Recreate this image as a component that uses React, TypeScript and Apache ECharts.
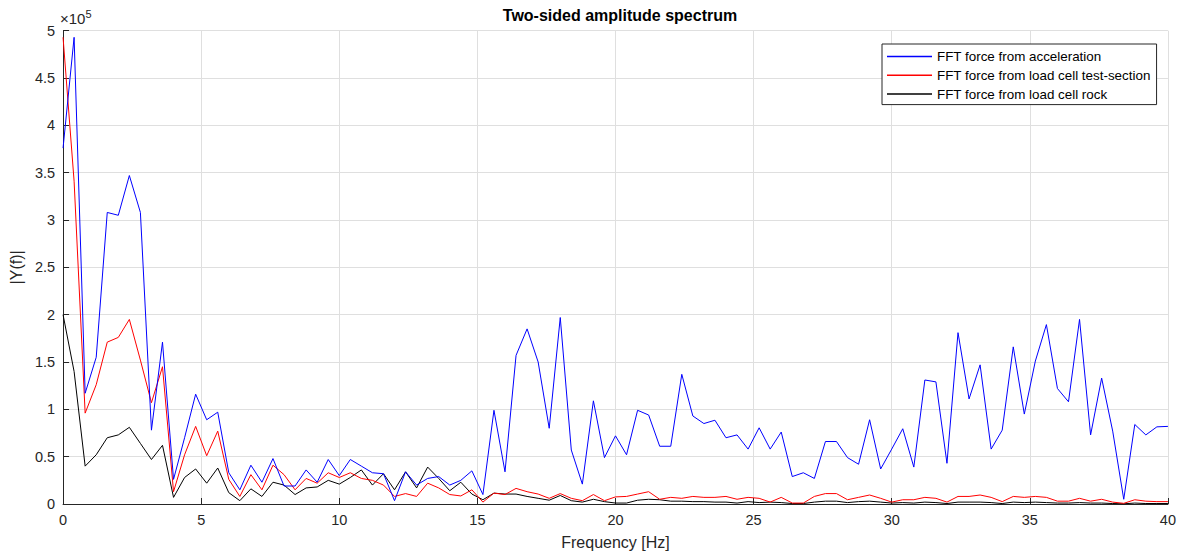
import React, { useEffect, useRef } from "react";
import * as echarts from "echarts";

// Frequency resolution of the spectrum (Hz per bin); bins 0..100 cover 0–40 Hz
const freqStep = 0.4;

// |Y(f)| in units of 1e5
const accelForce = [
  3.76, 4.93, 1.17, 1.55, 3.08, 3.05, 3.47, 3.08, 0.78, 1.71,
  0.26, 0.70, 1.16, 0.89, 0.97, 0.33, 0.15, 0.41, 0.23, 0.48,
  0.19, 0.19, 0.36, 0.23, 0.47, 0.30, 0.47, 0.40, 0.33, 0.32,
  0.035, 0.34, 0.20, 0.27, 0.29, 0.20, 0.25, 0.35, 0.10, 0.99,
  0.34, 1.57, 1.85, 1.50, 0.80, 1.97, 0.57, 0.21, 1.09, 0.49,
  0.72, 0.52, 0.99, 0.94, 0.61, 0.61, 1.37, 0.93, 0.85, 0.885,
  0.70, 0.73, 0.58, 0.805, 0.58, 0.76, 0.29, 0.33, 0.27, 0.66,
  0.66, 0.49, 0.42, 0.89, 0.37, 0.58, 0.795, 0.39, 1.31, 1.29,
  0.43, 1.81, 1.11, 1.47, 0.58, 0.78, 1.66, 0.95, 1.51, 1.895,
  1.22, 1.08, 1.95, 0.73, 1.33, 0.77, 0.05, 0.84, 0.73, 0.815,
  0.82,
];

const testSectionForce = [
  4.93, 3.41, 0.96, 1.26, 1.71, 1.76, 1.95, 1.52, 1.07, 1.45,
  0.13, 0.52, 0.82, 0.51, 0.77, 0.26, 0.08, 0.31, 0.15, 0.41,
  0.31, 0.15, 0.27, 0.22, 0.33, 0.28, 0.33, 0.27, 0.25, 0.20,
  0.08, 0.11, 0.08, 0.22, 0.17, 0.10, 0.085, 0.15, 0.02, 0.115,
  0.10, 0.165, 0.13, 0.105, 0.06, 0.11, 0.06, 0.035, 0.10, 0.035,
  0.075, 0.08, 0.105, 0.13, 0.05, 0.07, 0.06, 0.08, 0.07, 0.07,
  0.08, 0.05, 0.07, 0.06, 0.02, 0.07, 0.01, 0.01, 0.08, 0.11,
  0.11, 0.045, 0.07, 0.095, 0.06, 0.02, 0.045, 0.045, 0.07, 0.06,
  0.02, 0.08, 0.08, 0.095, 0.07, 0.025, 0.08, 0.07, 0.08, 0.07,
  0.03, 0.03, 0.06, 0.03, 0.05, 0.02, 0.007, 0.045, 0.03, 0.025,
  0.025,
];

const rockForce = [
  2.0, 1.4, 0.40, 0.52, 0.70, 0.73, 0.81, 0.64, 0.47, 0.62,
  0.07, 0.28, 0.37, 0.22, 0.38, 0.12, 0.035, 0.16, 0.08, 0.23,
  0.20, 0.10, 0.17, 0.18, 0.25, 0.21, 0.28, 0.36, 0.20, 0.32,
  0.15, 0.34, 0.17, 0.39, 0.27, 0.14, 0.23, 0.105, 0.045, 0.115,
  0.105, 0.105, 0.08, 0.06, 0.04, 0.09, 0.035, 0.02, 0.05, 0.025,
  0.01, 0.01, 0.04, 0.05, 0.045, 0.03, 0.03, 0.025, 0.025, 0.02,
  0.02, 0.01, 0.025, 0.015, 0.02, 0.015, 0.005, 0.005, 0.02, 0.03,
  0.03, 0.015, 0.025, 0.03, 0.02, 0.01, 0.015, 0.01, 0.02, 0.015,
  0.005, 0.02, 0.02, 0.02, 0.015, 0.005, 0.02, 0.015, 0.02, 0.015,
  0.01, 0.01, 0.015, 0.01, 0.01, 0.005, 0.002, 0.01, 0.005, 0.005,
  0.005,
];

const seriesNames = [
  "FFT force from acceleration",
  "FFT force from load cell test-section",
  "FFT force from load cell rock",
];
const seriesColors = ["#0000ff", "#ff0000", "#000000"];

const FONT = "'Liberation Sans', Arial, Helvetica, sans-serif";
const AX = "#262626";

function toPairs(vals: number[]) {
  return vals.map((v, i) => [+(i * freqStep).toFixed(3), v]);
}

export default function App() {
  const ref = useRef<HTMLDivElement>(null);
  useEffect(() => {
    if (!ref.current) return;
    const chart = echarts.init(ref.current, undefined, { renderer: "svg" });
    const all = [accelForce, testSectionForce, rockForce];
    chart.setOption({
      animation: false,
      backgroundColor: "#ffffff",
      textStyle: { fontFamily: FONT },
      title: {
        text: "Two-sided amplitude spectrum",
        left: 615,
        top: 2,
        textAlign: "center",
        textStyle: { fontFamily: FONT, fontSize: 16, fontWeight: "bold", color: "#000" },
      },
      grid: { left: 60, right: 9.5, top: 30.7, bottom: 48.3 },
      legend: {
        orient: "vertical",
        left: 882,
        top: 44,
        padding: [5, 6, 3, 5],
        itemGap: 3.8,
        itemWidth: 45,
        itemHeight: 1.5,
        icon: "rect",
        backgroundColor: "#ffffff",
        borderColor: AX,
        borderWidth: 1,
        borderRadius: 0,
        textStyle: { fontFamily: FONT, fontSize: 13.4, color: "#000", lineHeight: 15 },
        data: seriesNames,
      },
      xAxis: {
        type: "value",
        min: 0,
        max: 40,
        interval: 5,
        name: "Frequency [Hz]",
        nameLocation: "middle",
        nameGap: 30,
        nameTextStyle: { fontFamily: FONT, fontSize: 16, color: AX },
        axisLine: { show: true, lineStyle: { color: AX, width: 1 } },
        axisTick: { show: true, inside: true, length: 6, lineStyle: { color: AX } },
        axisLabel: { fontFamily: FONT, fontSize: 14.5, color: AX, margin: 8 },
        splitLine: { show: true, lineStyle: { color: "#dfdfdf", width: 1 } },
      },
      yAxis: {
        type: "value",
        min: 0,
        max: 5,
        interval: 0.5,
        name: "|Y(f)|",
        nameLocation: "middle",
        nameGap: 32,
        nameTextStyle: { fontFamily: FONT, fontSize: 16, color: AX },
        axisLine: { show: true, lineStyle: { color: AX, width: 1 } },
        axisTick: { show: true, inside: true, length: 6, lineStyle: { color: AX } },
        axisLabel: { fontFamily: FONT, fontSize: 14.5, color: AX, margin: 8 },
        splitLine: { show: true, lineStyle: { color: "#dfdfdf", width: 1 } },
      },
      graphic: [
        {
          type: "text",
          left: 60,
          top: 8,
          style: {
            text: "{a|×10}{b|5}",
            rich: {
              a: { fontFamily: FONT, fontSize: 15, fill: AX, verticalAlign: "bottom", lineHeight: 18 },
              b: { fontFamily: FONT, fontSize: 11, fill: AX, verticalAlign: "top", lineHeight: 18, padding: [0, 0, 7, 0] },
            },
          },
        },
      ],
      series: all.map((vals, k) => ({
        name: seriesNames[k],
        type: "line",
        data: toPairs(vals),
        symbol: "none",
        showSymbol: false,
        clip: true,
        lineStyle: { color: seriesColors[k], width: 1 },
        itemStyle: { color: seriesColors[k] },
        z: 3 - k,
      })),
    });
    return () => chart.dispose();
  }, []);
  return (
    <div
      ref={ref}
      style={{ position: "fixed", left: 0, top: 0, width: 1179, height: 555, background: "#fff" }}
    />
  );
}
